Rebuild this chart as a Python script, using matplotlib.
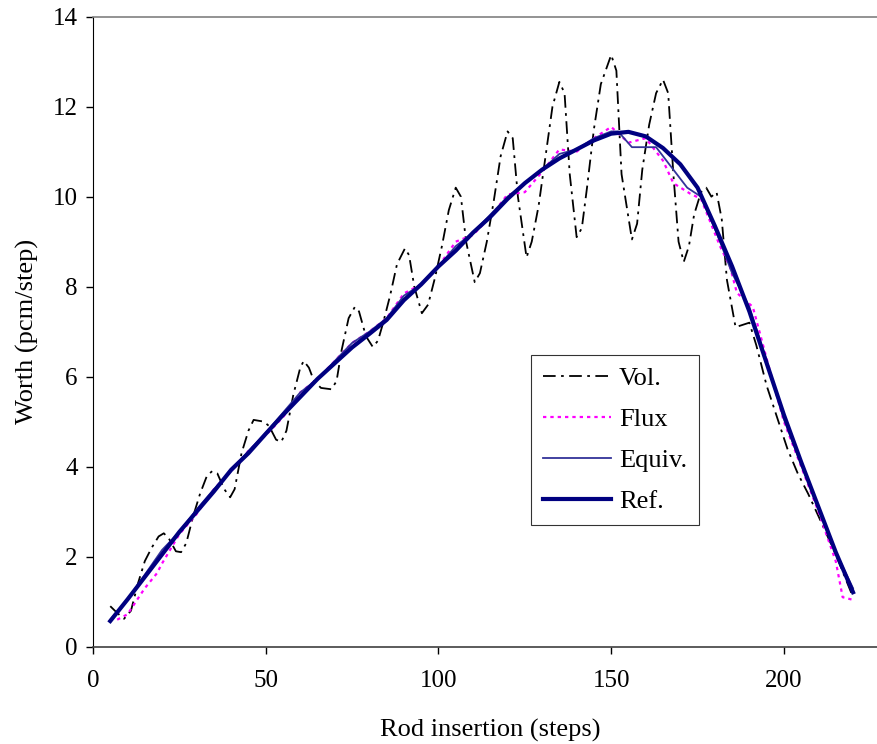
import matplotlib
matplotlib.use("Agg")
import matplotlib.pyplot as plt

plt.rcParams['font.family'] = ['Liberation Serif', 'DejaVu Serif']

# Ref. curve (thick navy)
ref_x = [5, 10, 15, 20, 25, 30, 35, 40, 45, 50, 55, 60, 65, 70, 75, 80, 85, 90, 95, 100,
         105, 110, 115, 120, 125, 130, 135, 140, 145, 150, 155, 160, 165, 170, 175, 180,
         185, 190, 195, 200, 205, 210, 215, 220]
ref_y = [0.57, 1.05, 1.55, 2.05, 2.55, 3.0, 3.45, 3.93, 4.3, 4.73, 5.15, 5.55, 5.95, 6.3,
         6.65, 6.95, 7.26, 7.7, 8.05, 8.45, 8.8, 9.2, 9.55, 9.95, 10.3, 10.6, 10.85, 11.05,
         11.25, 11.4, 11.44, 11.34, 11.08, 10.72, 10.2, 9.35, 8.45, 7.45, 6.3, 5.15, 4.1,
         3.1, 2.1, 1.21]

# Equiv. curve (thin blue)
eq_x = [5, 10, 15, 20, 25, 30, 35, 40, 45, 50, 55, 60, 65, 70, 75, 80, 85, 90, 95, 100,
        105, 110, 115, 120, 125, 130, 135, 140, 145, 150, 152, 156, 163, 169, 172, 176,
        180.5, 185, 190, 195, 200, 205, 210, 215, 220]
eq_y = [0.6, 1.05, 1.6, 2.15, 2.55, 3.05, 3.5, 3.9, 4.35, 4.75, 5.2, 5.65, 5.95, 6.35,
        6.75, 7.0, 7.3, 7.8, 8.05, 8.45, 8.9, 9.2, 9.6, 10.0, 10.3, 10.6, 10.95, 11.05,
        11.3, 11.45, 11.45, 11.1, 11.1, 10.5, 10.2, 10.0, 9.2, 8.3, 7.55, 6.35, 5.05, 4.05,
        3.1, 2.1, 1.3]

# Flux curve (magenta dotted)
fx_x = [7, 10, 15, 18.5, 20, 25, 30, 35, 40, 45, 50, 55, 60, 65, 70, 75, 80, 85, 90, 95,
        100, 105, 110, 115, 120, 125, 130, 135, 140, 145, 150, 155, 160, 165, 168, 172.8,
        176, 181.5, 184.4, 186.4, 191, 195, 200, 205, 210, 215, 217, 220]
fx_y = [0.6, 0.72, 1.3, 1.63, 1.85, 2.5, 2.95, 3.5, 3.9, 4.35, 4.7, 5.1, 5.65, 5.95, 6.35,
        6.75, 7.0, 7.3, 7.85, 8.05, 8.45, 9.0, 9.15, 9.55, 10.05, 10.1, 10.55, 11.05, 11.0,
        11.3, 11.55, 11.2, 11.3, 10.8, 10.3, 10.07, 9.95, 8.9, 8.44, 7.86, 7.55, 6.4, 5.0,
        4.0, 3.0, 1.9, 1.1, 1.04]

# Vol. curve (black dash-dot, oscillating)
vol_x = [5, 7, 9, 11, 13, 15, 17, 19, 20.5, 22, 24, 25.5, 27, 29, 31, 33, 34.5, 36, 38,
         39.7, 41, 43, 45, 46.5, 49.5, 51, 53, 54.5, 56, 58, 60, 61, 62.5, 64, 66, 69,
         70.5, 72, 74, 75.8, 77, 79, 81, 82.5, 84, 86, 88, 90.3, 91.5, 93, 95.2, 97, 99,
         101, 103, 105, 106.5, 108, 110.5, 112, 114, 116, 118, 120, 121.5, 123, 125.5,
         127, 129, 131, 133, 135, 136.5, 138, 140, 141.5, 143, 145, 147, 150, 151.5, 153,
         156, 157.5, 159, 161, 163, 165, 166.5, 168, 169.5, 171, 172.5, 174, 176, 177.5,
         179, 180.5, 182, 183.5, 186, 190, 192, 195, 198, 201, 204, 207, 210, 215, 220]
vol_y = [0.9, 0.75, 0.62, 0.8, 1.4, 1.9, 2.2, 2.45, 2.52, 2.4, 2.12, 2.1, 2.3, 2.9, 3.4,
         3.8, 3.9, 3.85, 3.5, 3.32, 3.5, 4.3, 4.8, 5.04, 5.0, 4.9, 4.6, 4.55, 4.8, 5.6,
         6.2, 6.35, 6.2, 5.9, 5.75, 5.72, 5.9, 6.6, 7.3, 7.55, 7.45, 6.9, 6.66, 6.8, 7.2,
         7.8, 8.5, 8.85, 8.7, 8.0, 7.41, 7.6, 8.2, 8.9, 9.7, 10.2, 10.0, 9.0, 8.1, 8.3,
         9.0, 9.9, 10.9, 11.45, 11.3, 10.0, 8.65, 9.0, 9.8, 10.9, 12.0, 12.55, 12.3, 10.5,
         9.1, 9.3, 10.2, 11.5, 12.5, 13.15, 12.8, 10.5, 9.05, 9.4, 10.6, 11.6, 12.3, 12.6,
         12.3, 10.5, 9.0, 8.55, 8.9, 9.6, 10.1, 10.2, 10.0, 10.1, 9.5, 8.15, 7.1, 7.2,
         6.7, 5.8, 5.1, 4.4, 3.85, 3.4, 2.9, 2.05, 1.1]

fig = plt.figure(figsize=(8.78, 7.44), dpi=100)
ax = fig.add_axes([0.1059, 0.1308, 0.905, 0.8468])

ax.plot(vol_x, vol_y, color="black", lw=1.3, dashes=(7, 3, 1.5, 3), label="Vol.")
ax.plot(fx_x, fx_y, color="#FF00FF", lw=1.6, dashes=(1.5, 1.8), label="Flux")
ax.plot(eq_x, eq_y, color="#333399", lw=1.3, label="Equiv.")
ax.plot(ref_x, ref_y, color="#000080", lw=3, label="Ref.")

ax.set_xlim(0, 230)
ax.set_ylim(0, 14)
ax.set_xticks(range(0, 201, 50))
ax.set_yticks(range(0, 15, 2))

ax.spines["right"].set_visible(False)
ax.spines["top"].set_color("#808080")
ax.spines["top"].set_linewidth(1.2)
ax.spines["bottom"].set_color("#404040")
ax.spines["bottom"].set_linewidth(1.2)
ax.spines["left"].set_color("black")
ax.tick_params(direction="out", length=5, width=1, labelsize=18, colors="black")
ax.tick_params(axis="x", pad=12)
ax.tick_params(axis="y", pad=6)

ax.set_xlabel("Rod insertion (steps)", fontsize=19, labelpad=19)
ax.set_ylabel("Worth (pcm/step)", fontsize=19, labelpad=10)

leg = ax.legend(loc="upper left", bbox_to_anchor=(0.551, 0.463), borderaxespad=0,
                fontsize=19, frameon=True, fancybox=False, handlelength=2.6,
                handletextpad=0.3, labelspacing=0.66, borderpad=0.45)
leg.get_frame().set_edgecolor("black")
leg.get_frame().set_linewidth(0.8)

fig.savefig("out.png", dpi=100)
